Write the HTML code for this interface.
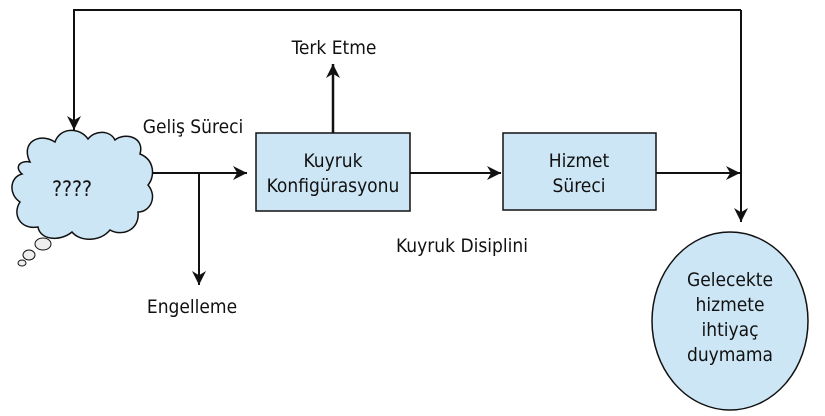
<!DOCTYPE html>
<html><head><meta charset="utf-8"><style>
html,body{margin:0;padding:0;background:#fff}
svg{display:block}
text{font-family:"DejaVu Sans Condensed","Liberation Sans",sans-serif;fill:#111}
</style></head><body>
<svg width="825" height="416" viewBox="0 0 825 416" xmlns="http://www.w3.org/2000/svg">
<defs>
<marker id="a" viewBox="0 0 10 10" refX="10" refY="5" markerWidth="14" markerHeight="14" markerUnits="userSpaceOnUse" orient="auto">
<path d="M0,0 L10,5 L0,10 L3,5 z" fill="#111"/></marker>
</defs>
<g stroke="#111" stroke-width="2" fill="none">
<polyline points="741,10 74,10 74,130" marker-end="url(#a)"/>
<line x1="741" y1="10" x2="741" y2="222" marker-end="url(#a)"/>
<line x1="153" y1="173" x2="247" y2="173" marker-end="url(#a)"/>
<line x1="199" y1="173" x2="199" y2="285" marker-end="url(#a)"/>
<line x1="333" y1="133" x2="333" y2="64" stroke-width="2.5" marker-end="url(#a)"/>
<line x1="410" y1="173" x2="501" y2="173" marker-end="url(#a)"/>
<line x1="656" y1="173" x2="740" y2="173" marker-end="url(#a)"/>
</g>
<path d="M30,162 C20,142 40,132 55,142 C60,127 80,127 88,139 C95,130 110,130 115,140 C125,132 145,137 140,154 C155,160 155,177 148,185 C158,197 150,212 138,212 C140,230 122,237 110,230 C100,242 80,242 72,232 C60,242 40,240 38,227 C20,230 12,214 20,202 C8,194 10,177 22,174 C14,167 20,160 30,162 z" fill="#cde6f5" stroke="#111" stroke-width="1.5"/>
<ellipse cx="43" cy="244" rx="8" ry="6" fill="#eee" stroke="#111"/>
<ellipse cx="29" cy="255" rx="6" ry="5" fill="#eee" stroke="#111"/>
<ellipse cx="22" cy="263" rx="4" ry="3" fill="#eee" stroke="#111"/>
<text x="72" y="196" font-size="21" text-anchor="middle">????</text>
<rect x="256" y="133" width="154" height="78" fill="#cde6f5" stroke="#111" stroke-width="1.5"/>
<rect x="503" y="133" width="153" height="77" fill="#cde6f5" stroke="#111" stroke-width="1.5"/>
<ellipse cx="730" cy="321" rx="78" ry="89" fill="#cde6f5" stroke="#111" stroke-width="1.5"/>
<g font-size="19" text-anchor="middle">
<text x="333" y="167">Kuyruk</text>
<text x="333" y="192">Konfigürasyonu</text>
<text x="579" y="167">Hizmet</text>
<text x="579" y="192">Süreci</text>
<text x="730" y="286">Gelecekte</text>
<text x="730" y="311">hizmete</text>
<text x="730" y="336">ihtiyaç</text>
<text x="730" y="361">duymama</text>
<text x="334" y="54">Terk Etme</text>
<text x="193" y="133">Geliş Süreci</text>
<text x="462" y="252">Kuyruk Disiplini</text>
<text x="192" y="313">Engelleme</text>
</g>
</svg>
</body></html>
